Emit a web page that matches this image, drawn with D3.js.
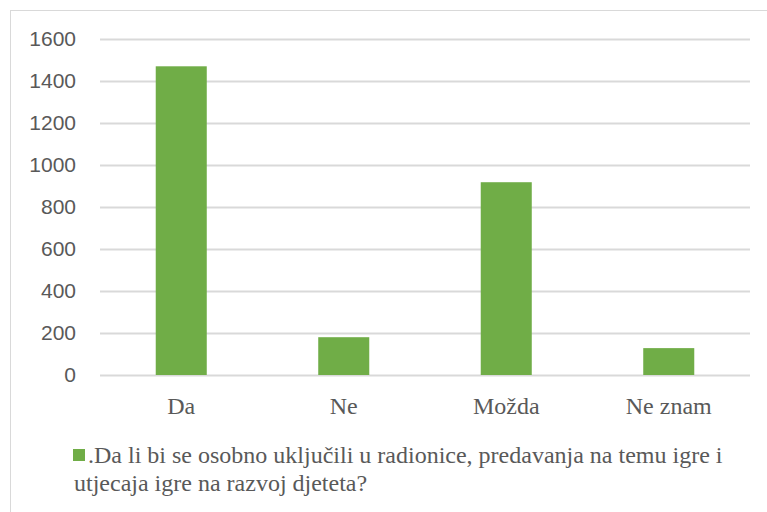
<!DOCTYPE html>
<html><head><meta charset="utf-8">
<script src="https://cdn.jsdelivr.net/npm/d3@7"></script>
<style>body{margin:0;background:#fff;}svg{display:block;}</style>
</head><body>
<svg id="c" width="767" height="512"></svg>
<script>
const categories = ["Da", "Ne", "Možda", "Ne znam"];
const values = [1470, 180, 918, 128];
const yTicks = [0, 200, 400, 600, 800, 1000, 1200, 1400, 1600];
const legendLines = [".Da li bi se osobno uključili u radionice, predavanja na temu igre i", "utjecaja igre na razvoj djeteta?"];

(function () {
const svg = d3.select("#c");
const W = 767, H = 512;
svg.append("rect").attr("x", 10.5).attr("y", 10.5).attr("width", W + 20).attr("height", H + 20)
  .attr("fill", "#fff").attr("stroke", "#d9d9d9").attr("stroke-width", 1);

const pL = 100, pR = 750, pT = 39, pB = 375;
const x = d3.scaleBand().domain(categories).range([pL, pR]).paddingInner(0.686).paddingOuter(0.343);
const y = d3.scaleLinear().domain([0, 1600]).range([pB, pT]);

const yAxis = svg.append("g").attr("transform", `translate(${pL},0)`)
  .call(d3.axisLeft(y).tickValues(yTicks).tickFormat(d3.format("d")).tickSize(-(pR - pL)).tickPadding(24));
yAxis.select(".domain").remove();
yAxis.selectAll("line").attr("stroke", "#d9d9d9").attr("stroke-width", 2);
yAxis.selectAll("text").attr("fill", "#595959").style("font-family", "'Liberation Sans', Arial, sans-serif").style("font-size", "21px");

svg.append("g").selectAll("rect").data(values).join("rect")
  .attr("x", (d, i) => x(categories[i]))
  .attr("width", x.bandwidth())
  .attr("y", d => y(d))
  .attr("height", d => y(0) - y(d))
  .attr("fill", "#70ad47");

const xAxis = svg.append("g").attr("transform", `translate(0,${pB})`)
  .call(d3.axisBottom(x).tickSize(0).tickPadding(22));
xAxis.select(".domain").remove();
xAxis.selectAll("text").attr("fill", "#595959").style("font-family", "'Liberation Serif', 'Times New Roman', serif").style("font-size", "24px");

svg.append("rect").attr("x", 73).attr("y", 449).attr("width", 12).attr("height", 12).attr("fill", "#70ad47");
svg.append("g").selectAll("text").data(legendLines).join("text")
  .attr("x", (d, i) => i === 0 ? 88 : 74)
  .attr("y", (d, i) => 463 + i * 28)
  .attr("fill", "#595959")
  .style("font-family", "'Liberation Serif', 'Times New Roman', serif").style("font-size", "24px")
  .text(d => d);
})();
</script>
</body></html>
